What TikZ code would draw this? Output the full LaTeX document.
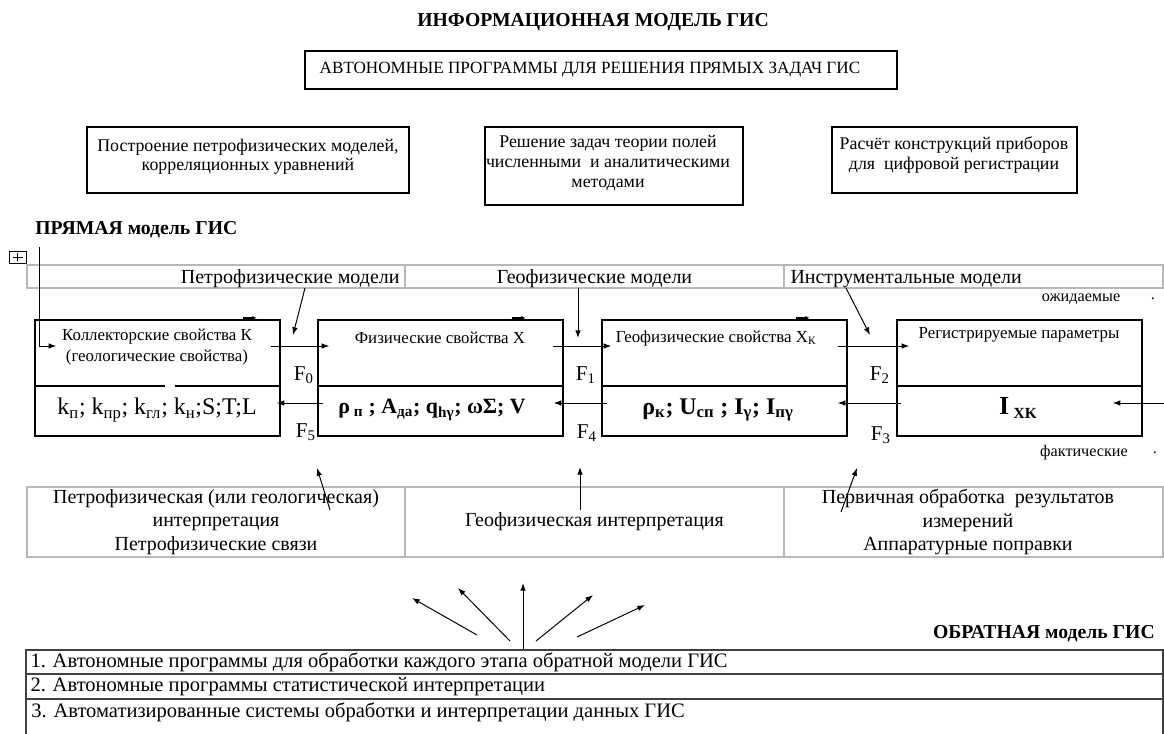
\documentclass[tikz,border=0pt]{standalone}
\usepackage{fontspec}
\setmainfont{Liberation Serif}
\usetikzlibrary{arrows.meta,positioning}

\newcommand\pxu{0.025cm}

\tikzset{
  box/.style={draw, line width=1pt, inner sep=0pt},
  graycell/.style={draw=black!28, line width=1.1pt, inner sep=0pt},
  listrow/.style={draw=black!75, line width=1.1pt, inner sep=0pt},
  arr/.style={line width=0.7pt, -{Latex[length=5.5pt,width=4pt]}},
  tick/.style={line width=1.4pt, -{Latex[length=3pt,width=3pt]}},
  head/.style={inner sep=0pt, font=\bfseries\fontsize{14}{16}\selectfont},
  txt/.style={inner sep=0pt, align=center, font=\fontsize{12.7}{13.8}\selectfont},
  lbl/.style={inner sep=0pt, align=center, font=\fontsize{14.2}{16.7}\selectfont},
  ptxt/.style={inner sep=0pt, align=center, font=\fontsize{12}{15}\selectfont},
  ftxt/.style={inner sep=0pt, font=\fontsize{17}{19}\selectfont},
  btxt/.style={inner sep=0pt, font=\bfseries\fontsize{15.5}{18}\selectfont},
  flbl/.style={inner sep=0pt, font=\fontsize{15}{17}\selectfont},
  small/.style={inner sep=0pt, font=\fontsize{11.5}{13}\selectfont},
  ltxt/.style={inner sep=0pt, font=\fontsize{14.6}{17}\selectfont}
}

\begin{document}
\begin{tikzpicture}[x=\pxu, y=-\pxu]
\useasboundingbox (0,0) rectangle (1164,733);

% heading and programs for the direct problems
\node[head] (title) at (593,22) {ИНФОРМАЦИОННАЯ МОДЕЛЬ ГИС};
\node[box, minimum width=592*\pxu, minimum height=38*\pxu] (progbox) at (601,70) {};
\node[txt, font=\fontsize{12.2}{14}\selectfont] (progtxt) at (590,70) {АВТОНОМНЫЕ ПРОГРАММЫ ДЛЯ РЕШЕНИЯ ПРЯМЫХ ЗАДАЧ ГИС};

\node[box, minimum width=322*\pxu, minimum height=66*\pxu] (petrobox) at (248,160) {};
\node[txt] (petrotxt) at (248,157) {Построение петрофизических моделей,\\корреляционных уравнений};
\node[box, minimum width=258*\pxu, minimum height=78*\pxu] (fieldbox) at (614,166) {};
\node[txt, font=\fontsize{12.7}{14.2}\selectfont] (fieldtxt) at (608,163) {Решение задач теории полей\\численными \ и аналитическими\\методами};
\node[box, minimum width=245*\pxu, minimum height=66*\pxu] (devbox) at (954.5,160) {};
\node[txt] (devtxt) at (954,155) {Расчёт конструкций приборов\\для \ цифровой регистрации};

% direct model
\node[head, anchor=west] (direct) at (35,230) {ПРЯМАЯ модель ГИС};
\node[draw, line width=0.6pt, minimum width=17*\pxu, minimum height=12*\pxu, inner sep=0pt] (handle) at (17.5,257) {};
\draw[line width=0.5pt] (handle.center) ++(-5,0) -- ++(10,0) (handle.center) ++(0,-4) -- ++(0,8);

\node[graycell, minimum width=378*\pxu, minimum height=23*\pxu] (petrocell) at (216,276.5) {};
\node[graycell, minimum width=379*\pxu, minimum height=23*\pxu] (geocell) at (594.5,276.5) {};
\node[graycell, minimum width=379*\pxu, minimum height=23*\pxu] (devcell) at (973.5,276.5) {};
\node[lbl, anchor=base east] (petromod) at ([shift={(-6,6.5)}]petrocell.east) {Петрофизические модели};
\node[lbl, anchor=base] (geomod) at ([shift={(0,6.5)}]geocell.center) {Геофизические модели};
\node[lbl, anchor=base west] (devmod) at ([shift={(7,6.5)}]devcell.west) {Инструментальные модели};

\node[small] (expect) at (1081,299) {ожидаемые};
\node[small] (expdot) at (1153,299) {.};
\node[small] (fact) at (1084,453) {фактические};
\node[small] (factdot) at (1155,453) {.};

\foreach \nm/\cx in {kbox/157.5, xbox/440.5, xkbox/724.5, regbox/1019.5}
  \node[box, minimum width=245*\pxu, minimum height=116*\pxu] (\nm) at (\cx,378) {};
\draw[line width=1pt] (35,386) -- (165,386) (175,386) -- (280,386);
\foreach \nm in {xbox, xkbox, regbox}
  \draw[line width=1pt] (\nm.west) ++(0,8) -- ++(245,0);

\node[ptxt] (ktxt) at (157,347) {Коллекторские свойства К\\(геологические свойства)};
\node[ptxt] (xtxt) at (440,338) {Физические свойства X};
\node[ptxt] (xktxt) at (716,338) {Геофизические свойства X\textsubscript{К}};
\node[ptxt] (regtxt) at (1019,335) {Регистрируемые параметры};

\node[ftxt] (klist) at (157,410) {k\textsubscript{п}; k\textsubscript{пр}; k\textsubscript{гл}; k\textsubscript{н};S;T;L};
\node[btxt] (xlist) at (432,410) {ρ\textsubscript{ п} ; A\textsubscript{да}; q\textsubscript{hγ}; ωΣ; V};
\node[btxt, font=\bfseries\fontsize{17}{19}\selectfont] (xklist) at (718,410) {ρ\textsubscript{к}; U\textsubscript{сп} ; I\textsubscript{γ}; I\textsubscript{пγ}};
\node[btxt, font=\bfseries\fontsize{18.5}{20}\selectfont] (ixk) at (1018,408) {I\,\raisebox{-0.4ex}{\fontsize{11}{12}\selectfont XK}};

\node[flbl, anchor=base east] (f0) at (314,380) {F\textsubscript{0}};
\node[flbl, anchor=base east] (f1) at (596,380) {F\textsubscript{1}};
\node[flbl, anchor=base east] (f2) at (890,380) {F\textsubscript{2}};
\node[flbl, anchor=base east] (f5) at (316,437) {F\textsubscript{5}};
\node[flbl, anchor=base east] (f4) at (597,438) {F\textsubscript{4}};
\node[flbl, anchor=base east] (f3) at (891,440) {F\textsubscript{3}};

% forward and backward links
\coordinate (entry) at (39,247);
\draw[arr] (entry) |- ([shift={(22,-32)}]kbox.west);
\draw[arr] ([shift={(-10,-32)}]kbox.east) -- ([shift={(12,-32)}]xbox.west);
\draw[arr] ([shift={(-11,-32)}]xbox.east) -- ([shift={(10,-32)}]xkbox.west);
\draw[arr] ([shift={(-10,-32)}]xkbox.east) -- ([shift={(13,-32)}]regbox.west);
\draw[arr] ([shift={(6,25)}]xbox.west) -- ([shift={(-4,25)}]kbox.east);
\draw[arr] ([shift={(6,25)}]xkbox.west) -- ([shift={(-10,25)}]xbox.east);
\draw[arr] ([shift={(5,25)}]regbox.west) -- ([shift={(-10,25)}]xkbox.east);
\coordinate (input) at (1164,403);
\draw[arr] (input) -- ([shift={(-30,25)}]regbox.east);
\foreach \b/\d in {kbox/92, xbox/78, xkbox/78}
  \draw[tick] ([xshift=(\d-7)*\pxu, yshift=1]\b.north) -- ([xshift=(\d+7)*\pxu, yshift=1]\b.north);

\coordinate (pm) at (305,288); \coordinate (pmf) at (293,335);
\coordinate (gm) at (578,288); \coordinate (gmf) at (578,338);
\coordinate (im) at (846,288); \coordinate (imf) at (870,335);
\draw[arr] (pm) -- (pmf);
\draw[arr] (gm) -- (gmf);
\draw[arr] (im) -- (imf);

% interpretation
\node[graycell, minimum width=378*\pxu, minimum height=70*\pxu] (petroint) at (216,522) {};
\node[graycell, minimum width=379*\pxu, minimum height=70*\pxu] (geoint) at (594.5,522) {};
\node[graycell, minimum width=379*\pxu, minimum height=70*\pxu] (devint) at (973.5,522) {};
\node[lbl] (petrointtxt) at (petroint) {Петрофизическая (или геологическая)\\интерпретация\\Петрофизические связи};
\node[lbl] (geointtxt) at (geoint) {Геофизическая интерпретация};
\node[lbl] (devinttxt) at (968,522) {Первичная обработка \ результатов\\измерений\\Аппаратурные поправки};

\coordinate (pi) at (330,510); \coordinate (pif) at (317,468);
\coordinate (gi) at (580,510); \coordinate (gif) at (580,467);
\coordinate (ii) at (841,512); \coordinate (iif) at (857,468);
\draw[arr] (pi) -- (pif);
\draw[arr] (gi) -- (gif);
\draw[arr] (ii) -- (iif);

% inverse model
\node[head, anchor=east] (inverse) at (1155,634) {ОБРАТНАЯ модель ГИС};
\foreach \i/\sx/\sy/\ex/\ey in {1/477/635/412/598, 2/510/641/458/588, 3/523/650/523/583, 4/536/641/593/595, 5/577/637/645/605}{
  \coordinate (fs\i) at (\sx,\sy);
  \coordinate (fe\i) at (\ex,\ey);
  \draw[arr] (fs\i) -- (fe\i);
}

\node[listrow, minimum width=1137*\pxu, minimum height=24*\pxu] (row1) at (594.5,662) {};
\node[listrow, minimum width=1137*\pxu, minimum height=25*\pxu] (row2) at (594.5,686.5) {};
\node[listrow, minimum width=1137*\pxu, minimum height=44*\pxu] (row3) at (594.5,721) {};
\node[ltxt, anchor=west] (row1txt) at ([xshift=5*\pxu]row1.west) {1. Автономные программы для обработки каждого этапа обратной модели ГИС};
\node[ltxt, anchor=west] (row2txt) at ([xshift=5*\pxu]row2.west) {2. Автономные программы статистической интерпретации};
\node[ltxt, anchor=west] (row3txt) at (31,712) {3. Автоматизированные системы обработки и интерпретации данных ГИС};
\end{tikzpicture}
\end{document}
